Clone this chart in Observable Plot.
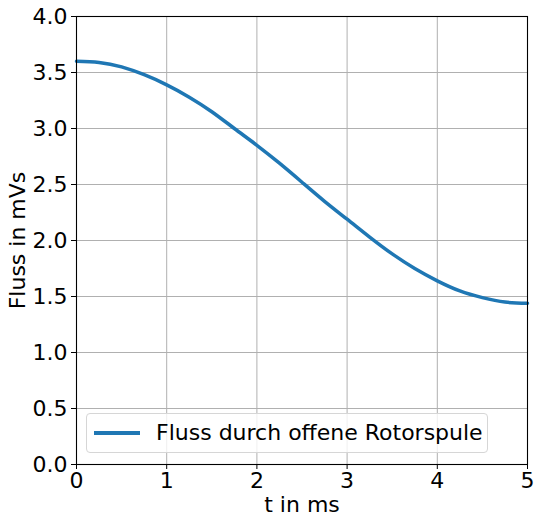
<!DOCTYPE html>
<html>
<head>
<meta charset="utf-8">
<script src="https://cdn.jsdelivr.net/npm/d3@7"></script>
<script src="https://cdn.jsdelivr.net/npm/@observablehq/plot@0.6"></script>
<style>
  html, body { margin: 0; padding: 0; background: #fff; }
  #wrap { position: relative; width: 534px; height: 517px; font-family: "DejaVu Sans", sans-serif; }
  #legend {
    position: absolute; left: 86px; top: 413px; width: 400px; height: 38px;
    border: 1px solid #d6d6d6; border-radius: 4px; background: rgba(255,255,255,0.8);
    box-sizing: content-box;
  }
  #legend .swatch { position: absolute; left: 7px; top: 17px; width: 46px; height: 4px; background: #1f77b4; }
  #legend .label { position: absolute; left: 69px; top: 6px; font-size: 22px; line-height: 25px; color: #000; white-space: nowrap; }
</style>
</head>
<body>
<div id="wrap"></div>
<script>
const tValues = [0, 0.25, 0.5, 0.75, 1, 1.25, 1.5, 1.75, 2, 2.25, 2.5, 2.75, 3, 3.25, 3.5, 3.75, 4, 4.25, 4.5, 4.75, 5];
const fluxValues = [3.60, 3.59, 3.55, 3.48, 3.39, 3.28, 3.15, 3.00, 2.85, 2.69, 2.52, 2.35, 2.19, 2.03, 1.88, 1.75, 1.64, 1.55, 1.49, 1.45, 1.44];
const xTicks = [0, 1, 2, 3, 4, 5];
const yTicks = [0, 0.5, 1, 1.5, 2, 2.5, 3, 3.5, 4];
const seriesName = "Fluss durch offene Rotorspule";
const xLabel = "t in ms";
const yLabel = "Fluss in mVs";

const data = tValues.map((t, i) => ({t, v: fluxValues[i]}));

const chart = Plot.plot({
  width: 534,
  height: 517,
  marginLeft: 76,
  marginRight: 7,
  marginTop: 16,
  marginBottom: 53,
  style: {fontFamily: "DejaVu Sans, sans-serif", fontSize: "22px", color: "#000", background: "#fff"},
  x: {domain: [0, 5]},
  y: {domain: [0, 4]},
  marks: [
    Plot.gridX(xTicks, {stroke: "#b0b0b0", strokeOpacity: 1, strokeWidth: 1}),
    Plot.gridY(yTicks, {stroke: "#b0b0b0", strokeOpacity: 1, strokeWidth: 1}),
    Plot.line(data, {x: "t", y: "v", stroke: "#1f77b4", strokeWidth: 3.5, curve: "natural"}),
    Plot.frame({stroke: "#000", strokeWidth: 1.1}),
    Plot.axisX(xTicks, {tickSize: 5, tickPadding: 3, tickFormat: d => d3.format("d")(d), label: xLabel, labelAnchor: "center", labelArrow: "none", labelOffset: 47, fontSize: 22}),
    Plot.axisY(yTicks, {tickSize: 5, tickPadding: 4, tickFormat: d => d3.format(".1f")(d), label: yLabel, labelAnchor: "center", labelArrow: "none", labelOffset: 67, fontSize: 22})
  ]
});

const wrap = document.getElementById("wrap");
wrap.appendChild(chart);
const legend = document.createElement("div");
legend.id = "legend";
legend.innerHTML = `<div class="swatch"></div><div class="label"></div>`;
legend.querySelector(".label").textContent = seriesName;
wrap.appendChild(legend);
</script>
</body>
</html>
